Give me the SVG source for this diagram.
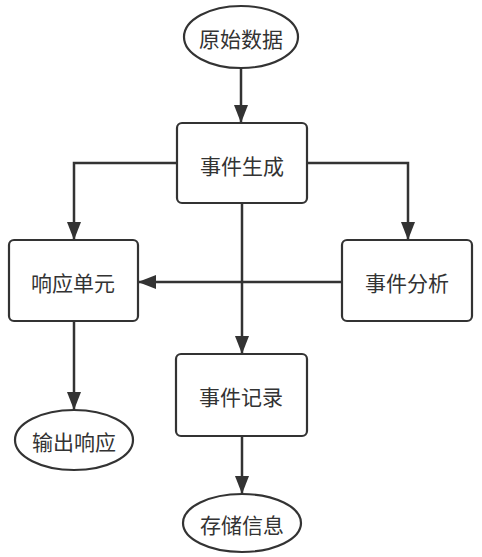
<svg xmlns="http://www.w3.org/2000/svg" width="482" height="557" viewBox="0 0 482 557">
<style>
.n{fill:#fff;stroke:#333;stroke-width:2.2}
.t{font-family:"Noto Sans CJK SC","Noto Sans",sans-serif;font-size:21px;fill:#333;text-anchor:middle;dominant-baseline:central}
.c{fill:none;stroke:#333;stroke-width:2.5;marker-end:url(#a)}
</style>
<defs>
<marker id="a" markerUnits="userSpaceOnUse" markerWidth="18" markerHeight="14" refX="17" refY="7" orient="auto">
<path d="M0,0 L18,7 L0,14 z" fill="#333"/>
</marker>
</defs>
<rect width="482" height="557" fill="#fff"/>
<g id="connectors">
<path class="c" d="M241,68 L241,122"/>
<path class="c" d="M177,163 L74,163 L74,239"/>
<path class="c" d="M307,163 L408,163 L408,239"/>
<path class="c" d="M242,204 L242,353"/>
<path class="c" d="M342,282 L139,282"/>
<path class="c" d="M74,321 L74,409"/>
<path class="c" d="M242,436 L242,493"/>
</g>
<g id="n1"><ellipse class="n" cx="241" cy="37" rx="57" ry="31"/><text class="t" x="241" y="38">原始数据</text></g>
<g id="n2"><rect class="n" x="177" y="123" width="130" height="80" rx="5"/><text class="t" x="242" y="165">事件生成</text></g>
<g id="n3"><rect class="n" x="9" y="240" width="129" height="81" rx="5"/><text class="t" x="73" y="282">响应单元</text></g>
<g id="n4"><rect class="n" x="342" y="240" width="130" height="81" rx="5"/><text class="t" x="407" y="282">事件分析</text></g>
<g id="n5"><rect class="n" x="176" y="354" width="131" height="82" rx="5"/><text class="t" x="241" y="396">事件记录</text></g>
<g id="n6"><ellipse class="n" cx="74" cy="440" rx="59" ry="30"/><text class="t" x="74" y="441">输出响应</text></g>
<g id="n7"><ellipse class="n" cx="242" cy="523" rx="59" ry="29"/><text class="t" x="242" y="524">存储信息</text></g>
</svg>
